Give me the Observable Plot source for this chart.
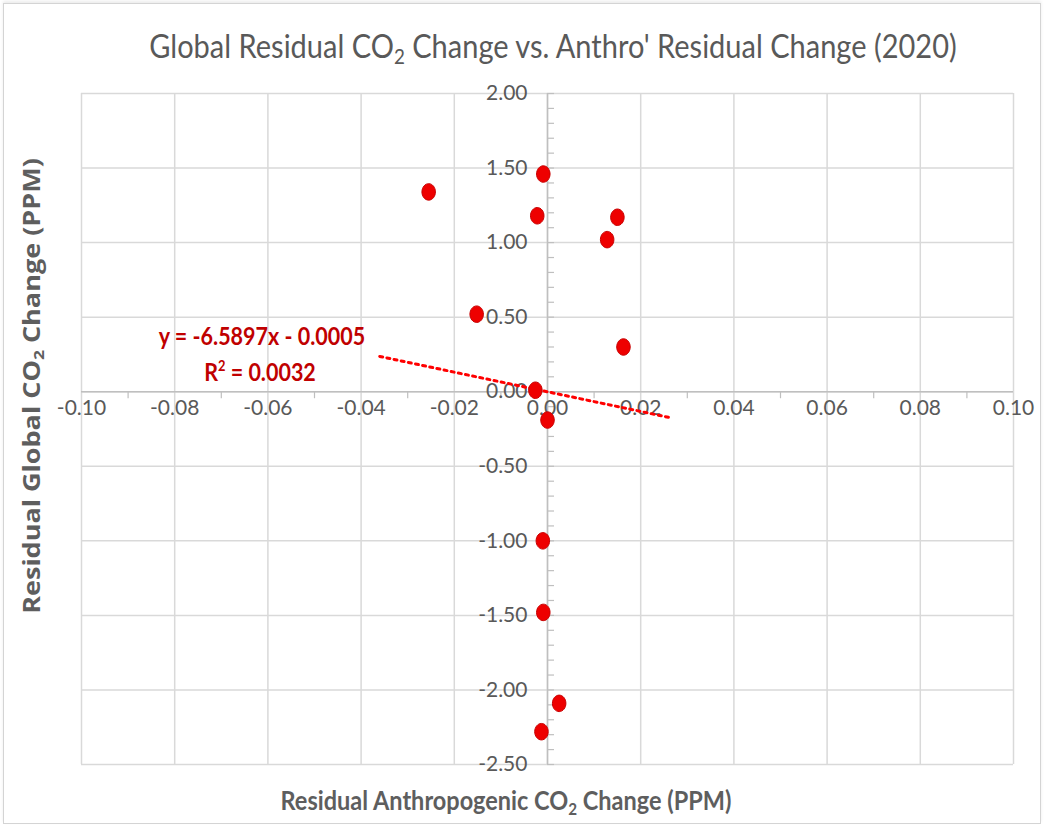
<!DOCTYPE html>
<html>
<head>
<meta charset="utf-8">
<script src="https://cdn.jsdelivr.net/npm/d3@7"></script>
<script src="https://cdn.jsdelivr.net/npm/@observablehq/plot@0.6"></script>
<style>
  html, body { margin: 0; padding: 0; background: #fff; }
  #wrap { position: relative; width: 1044px; height: 827px; overflow: hidden; font-family: Lato, "Open Sans", sans-serif; }
  #frame { position: absolute; left: 3px; top: 3px; right: 3px; bottom: 3px; border: 1px solid #d4d4d4; box-shadow: 0 -2px 3px rgba(0,0,0,0.08); pointer-events: none; }
  #title { position: absolute; left: 553px; top: 45px; transform: translate(-50%, -50%) scale(1, 1.12); font-size: 29px; color: #595959; white-space: nowrap; }
  #xlabel { position: absolute; left: 506px; top: 800px; transform: translate(-50%, -50%) scale(1, 1.12); font-size: 23.5px; font-weight: 700; color: #5e5e5e; white-space: nowrap; }
  #ylabel { position: absolute; left: 31px; top: 386px; transform: translate(-50%, -50%) rotate(-90deg) scale(1.2, 1); font-family: "Open Sans", sans-serif; font-size: 22.5px; font-weight: 700; color: #5e5e5e; white-space: nowrap; }
  .eq { position: absolute; color: #c00000; font-size: 21.5px; font-weight: 700; white-space: nowrap; transform: translate(-50%, -50%) scale(1, 1.12); }
  sub { font-size: 0.65em; vertical-align: -0.3em; line-height: 0; }
  sup { font-size: 0.6em; vertical-align: 0.7em; line-height: 0; }
  svg { position: absolute; left: 0; top: 0; }
</style>
</head>
<body>
<div id="wrap">
  <div id="chart"></div>
  <div id="title">Global Residual CO<sub>2</sub> Change vs. Anthro' Residual Change (2020)</div>
  <div id="ylabel">Residual Global CO<sub>2</sub> Change (PPM)</div>
  <div id="xlabel">Residual Anthropogenic CO<sub>2</sub> Change (PPM)</div>
  <div class="eq" style="left:262px; top:336px;">y = -6.5897x - 0.0005</div>
  <div class="eq" style="left:260px; top:372px;">R<sup>2</sup> = 0.0032</div>
  <div id="frame"></div>
</div>
<script>
// Data
const anthroResidual = [-0.0255, -0.0009, -0.0022, 0.0150, 0.0128, -0.0152, 0.0163, -0.0026, 0.0000, -0.0010, -0.0009, 0.0025, -0.0013];
const globalResidual = [1.34, 1.46, 1.18, 1.17, 1.02, 0.52, 0.30, 0.01, -0.19, -1.00, -1.48, -2.09, -2.28];

// Trendline as shown on the chart
const trendSlope = -6.5897;
const trendIntercept = -0.0005;
const trendRange = [-0.036, 0.026];

// Axis ticks
const xTicks = [-0.10, -0.08, -0.06, -0.04, -0.02, 0.00, 0.02, 0.04, 0.06, 0.08, 0.10];
const xMinorTicks = [-0.09, -0.07, -0.05, -0.03, -0.01, 0.01, 0.03, 0.05, 0.07, 0.09];
const yTicks = [2.00, 1.50, 1.00, 0.50, 0.00, -0.50, -1.00, -1.50, -2.00, -2.50];
const yMinorTicks = d3.range(-25, 21).map(k => k / 10);

const points = anthroResidual.map((x, i) => ({x, y: globalResidual[i]}));
const trend = trendRange.map(x => ({x, y: trendSlope * x + trendIntercept}));

const fmt = v => v.toFixed(2);

// slightly tall elliptical marker, like the reference
const ellipse = {
  draw(context, size) {
    const r = Math.sqrt(size / Math.PI);
    const rx = r * 0.9, ry = r * 1.1, k = 0.5523;
    context.moveTo(rx, 0);
    context.bezierCurveTo(rx, ry * k, rx * k, ry, 0, ry);
    context.bezierCurveTo(-rx * k, ry, -rx, ry * k, -rx, 0);
    context.bezierCurveTo(-rx, -ry * k, -rx * k, -ry, 0, -ry);
    context.bezierCurveTo(rx * k, -ry, rx, -ry * k, rx, 0);
    context.closePath();
  }
};

const tickStyle = {fontSize: 21, fill: "#595959"};

const plot = Plot.plot({
  width: 1044,
  height: 827,
  marginTop: 93,
  marginBottom: 63,
  marginLeft: 81,
  marginRight: 31,
  x: {domain: [-0.1, 0.1], axis: null},
  y: {domain: [-2.5, 2.0], axis: null},
  style: {fontFamily: "Lato, 'Open Sans', sans-serif", background: "transparent", overflow: "visible"},
  marks: [
    Plot.ruleX(xTicks, {x: d => d, stroke: "#d9d9d9", strokeWidth: 1.5}),
    Plot.ruleY(yTicks, {y: d => d, stroke: "#d9d9d9", strokeWidth: 1.5}),
    Plot.ruleX([0], {x: d => d, stroke: "#bfbfbf", strokeWidth: 1.5}),
    Plot.ruleY([0], {y: d => d, stroke: "#bfbfbf", strokeWidth: 1.5}),
    Plot.ruleY(yMinorTicks, {y: d => d, x1: 0, x2: 0, insetRight: -7, stroke: "#bfbfbf", strokeWidth: 1.2}),
    Plot.ruleX(xMinorTicks, {x: d => d, y1: 0, y2: 0, insetBottom: -7, stroke: "#bfbfbf", strokeWidth: 1.2}),
    Plot.text(yTicks, {x: 0, y: d => d, text: fmt, textAnchor: "end", dx: -20, ...tickStyle}),
    Plot.text(xTicks, {x: d => d, y: 0, text: fmt, dy: 17, ...tickStyle}),
    Plot.line(trend, {x: "x", y: "y", stroke: "#ff0000", strokeWidth: 3, strokeDasharray: "3 4.3"}),
    Plot.dot(points, {x: "x", y: "y", r: 7.5, symbol: ellipse, fill: "#ee0000", stroke: "#c80000", strokeWidth: 1})
  ]
});
document.getElementById("chart").appendChild(plot);
</script>
</body>
</html>
